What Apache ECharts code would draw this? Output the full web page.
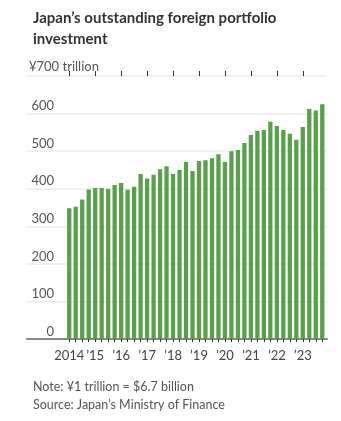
<!DOCTYPE html>
<html>
<head>
<meta charset="utf-8">
<script src="https://cdn.jsdelivr.net/npm/echarts@6/dist/echarts.min.js"></script>
<style>
    html, body { margin: 0; background: #fff; }
    #chart { width: 341px; height: 421px; }
</style>
</head>
<body>
<div id="chart"></div>
<script>
    // 数据
    const years = ['2014', '2015', '2016', '2017', '2018', '2019', '2020', '2021', '2022', '2023'];
    const yearLabels = ['2014', '’15', '’16', '’17', '’18', '’19', '’20', '’21', '’22', '’23'];
    const quarters = ['Q1', 'Q2', 'Q3', 'Q4'];
    const values = [
        348, 352, 371, 398, 402, 402, 399, 410, 415, 397,
        405, 439, 427, 437, 452, 460, 439, 450, 471, 447,
        474, 476, 481, 492, 471, 500, 503, 522, 543, 554,
        556, 578, 567, 556, 546, 530, 564, 612, 608, 625
    ];
    const yTicks = [0, 100, 200, 300, 400, 500, 600, 700];

    const categories = [];
    years.forEach(y => quarters.forEach(q => categories.push(y + ' ' + q)));

    const FONT = 'Lato, sans-serif';
    const yearOf = v => yearLabels[years.indexOf(v.slice(0, 4))];

    const chart = echarts.init(document.getElementById('chart'));
    chart.setOption({
        animation: false,
        title: [{
            text: 'Japan’s outstanding foreign portfolio\ninvestment',
            left: 28, top: 3,
            textStyle: {fontFamily: FONT, fontWeight: 'bold', fontSize: 15, lineHeight: 21, color: '#333'}
        }, {
            text: 'Note: ¥1 trillion = $6.7 billion\nSource: Japan’s Ministry of Finance',
            left: 28, top: 373,
            textStyle: {fontFamily: FONT, fontWeight: 'normal', fontSize: 12.5, lineHeight: 18, color: '#555'}
        }],
        grid: [
            {left: 27, right: 14, top: 76, bottom: 82},
            {left: 66, right: 15.5, top: 76, bottom: 82}
        ],
        xAxis: [{
            gridIndex: 0, type: 'category', data: categories,
            axisLine: {lineStyle: {color: '#888', width: 2}},
            axisTick: {show: false}, axisLabel: {show: false}
        }, {
            gridIndex: 1, type: 'category', data: categories,
            axisLine: {show: false},
            axisTick: {show: true, interval: 0, alignWithLabel: true, length: 3, lineStyle: {color: '#333'}},
            axisLabel: {
                interval: (i) => i % 4 === 0,
                formatter: v => yearOf(v),
                margin: 10, fontFamily: FONT, fontSize: 13, color: '#444'
            }
        }, {
            gridIndex: 1, type: 'category', data: categories,
            axisLine: {show: false},
            axisTick: {show: true, interval: (i) => i % 4 === 0, alignWithLabel: true, length: 5, lineStyle: {color: '#333'}},
            axisLabel: {show: false}
        }],
        yAxis: [{
            gridIndex: 0, type: 'value',
            min: yTicks[0], max: yTicks[yTicks.length - 1], interval: 100,
            name: '¥700 trillion', nameLocation: 'end', nameGap: 3,
            nameTextStyle: {align: 'left', verticalAlign: 'bottom', padding: [0, 0, 0, 2], fontFamily: FONT, fontSize: 13, color: '#555'},
            axisLine: {show: false}, axisTick: {show: false},
            splitLine: {lineStyle: {color: '#ebebeb', width: 1.5}},
            axisLabel: {
                inside: true, margin: 27, align: 'right', verticalAlign: 'bottom', padding: [0, 0, 1, 0],
                formatter: v => (v === 700 ? '' : v),
                fontFamily: FONT, fontSize: 13, color: '#555'
            }
        }, {
            gridIndex: 1, type: 'value', show: false,
            min: yTicks[0], max: yTicks[yTicks.length - 1], interval: 100,
            splitLine: {show: false}
        }],
        series: [{
            type: 'bar', xAxisIndex: 1, yAxisIndex: 1,
            data: values, barCategoryGap: '34%',
            itemStyle: {color: '#5aa04c'}
        }]
    });
</script>
</body>
</html>
